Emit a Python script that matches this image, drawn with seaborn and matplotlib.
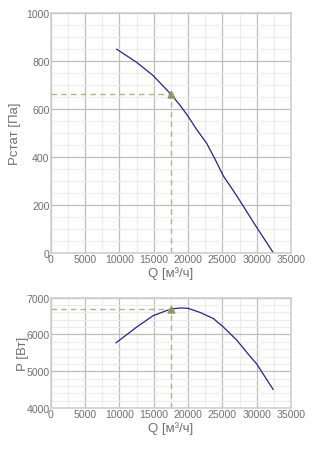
import matplotlib
matplotlib.use("Agg")
import matplotlib.pyplot as plt
import seaborn as sns
import pandas as pd
from matplotlib.ticker import MultipleLocator

sns.set_style("white")
plt.rcParams['font.family'] = ['Liberation Sans', 'DejaVu Sans']

# fan curve, static pressure
q_p = [9580, 12500, 14900, 17500, 18800, 20000, 21250, 22700, 23900, 25130, 27080, 28500, 30000, 32450]
p_stat = [850, 795, 740, 662, 617, 570, 515, 458, 393, 322, 239, 175, 107, 0]

# fan curve, power
q_w = [9480, 12500, 14900, 17500, 19000, 20000, 21730, 23670, 25130, 27080, 29020, 30000, 32420]
power = [5770, 6200, 6510, 6694, 6722, 6710, 6600, 6435, 6205, 5850, 5410, 5200, 4500]

# operating point
q_op = 17550
p_op = 662
w_op = 6700

dfp = pd.DataFrame({"Q": q_p, "P": p_stat})
dfw = pd.DataFrame({"Q": q_w, "W": power})

txt = "#707070"
line_c = "#24248a"
pt_c = "#8c9a5e"
dash_c = "#b3b38a"

fig = plt.figure(figsize=(3.24, 4.56), dpi=100)
ax1 = fig.add_axes([0.157, 0.443, 0.741, 0.526])
ax2 = fig.add_axes([0.157, 0.103, 0.741, 0.242])


def style(ax, ymaj, ymin):
    ax.xaxis.set_major_locator(MultipleLocator(5000))
    ax.xaxis.set_minor_locator(MultipleLocator(2500))
    ax.yaxis.set_major_locator(MultipleLocator(ymaj))
    ax.yaxis.set_minor_locator(MultipleLocator(ymin))
    ax.grid(which="major", color="#bdbdbd", lw=0.9)
    ax.grid(which="minor", color="#ececec", lw=0.8)
    ax.set_axisbelow(True)
    for s in ax.spines.values():
        s.set_color("#cfcfcf")
        s.set_linewidth(1.2)
    ax.tick_params(which="both", length=0, labelsize=7.6, colors=txt, pad=1)


sns.lineplot(data=dfp, x="Q", y="P", ax=ax1, color=line_c, lw=0.9)
ax1.plot([0, q_op], [p_op, p_op], ls=(0, (4, 3)), color=dash_c, lw=1)
ax1.plot([q_op, q_op], [0, p_op], ls=(0, (4, 3)), color=dash_c, lw=1)
sns.scatterplot(x=[q_op], y=[p_op], ax=ax1, marker="^", s=30, color=pt_c, edgecolor=pt_c, zorder=5)
ax1.set_xlim(0, 35000)
ax1.set_ylim(0, 1000)
style(ax1, 200, 50)
ax1.set_xlabel("Q [м³/ч]", fontsize=9.5, color=txt, labelpad=1)
ax1.set_ylabel("Pстат [Па]", fontsize=9.5, color=txt, labelpad=4)

sns.lineplot(data=dfw, x="Q", y="W", ax=ax2, color=line_c, lw=0.9)
ax2.plot([0, q_op], [w_op, w_op], ls=(0, (4, 3)), color=dash_c, lw=1)
ax2.plot([q_op, q_op], [4000, w_op], ls=(0, (4, 3)), color=dash_c, lw=1)
sns.scatterplot(x=[q_op], y=[w_op], ax=ax2, marker="^", s=30, color=pt_c, edgecolor=pt_c, zorder=5)
ax2.set_xlim(0, 35000)
ax2.set_ylim(4000, 7000)
style(ax2, 1000, 200)
ax2.set_xlabel("Q [м³/ч]", fontsize=9.5, color=txt, labelpad=1)
ax2.set_ylabel("P [Вт]", fontsize=9.5, color=txt, labelpad=-2)

fig.savefig("out.png", dpi=100, facecolor="white")
